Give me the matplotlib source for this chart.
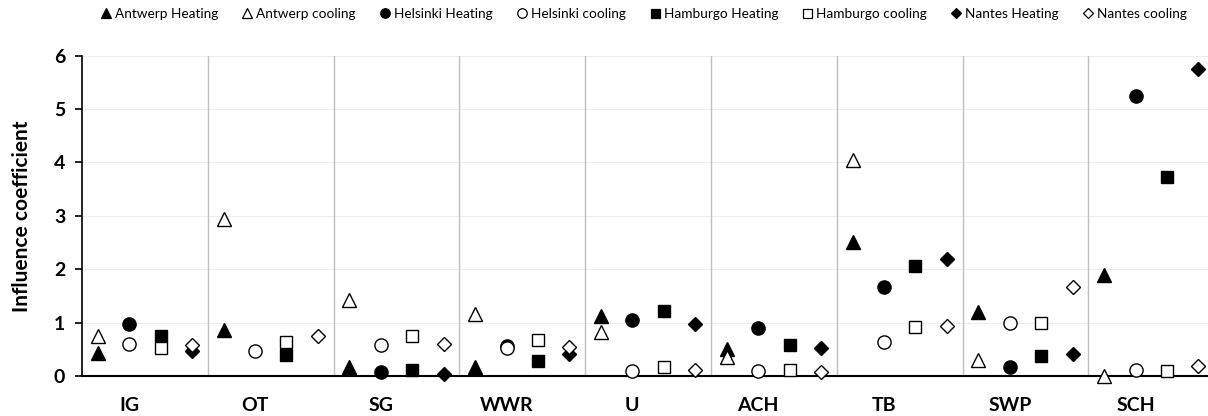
import numpy as np
import matplotlib.pyplot as plt

# ============================================================
# Data
# ============================================================
categories = ["IG", "OT", "SG", "WWR", "U", "ACH", "TB", "SWP", "SCH"]
cities = ["Antwerp", "Helsinki", "Hamburgo", "Nantes"]

antwerp_heating = [0.44, 0.86, 0.17, 0.16, 1.12, 0.50, 2.51, 1.19, 1.90]
antwerp_cooling = [0.75, 2.95, 1.42, 1.17, 0.83, 0.35, 4.05, 0.30, 0.00]
helsinki_heating = [0.97, np.nan, 0.08, 0.57, 1.05, 0.90, 1.67, 0.16, 5.25]
helsinki_cooling = [0.60, 0.46, 0.58, 0.52, 0.10, 0.09, 0.64, 1.00, 0.12]
hamburgo_heating = [0.74, 0.39, 0.12, 0.28, 1.22, 0.59, 2.06, 0.38, 3.73]
hamburgo_cooling = [0.53, 0.64, 0.74, 0.67, 0.17, 0.11, 0.91, 0.99, 0.09]
nantes_heating = [0.46, np.nan, 0.04, 0.41, 0.97, 0.52, 2.20, 0.41, 5.76]
nantes_cooling = [0.59, 0.75, 0.60, 0.55, 0.11, 0.08, 0.94, 1.67, 0.19]

series = [
    ("Antwerp Heating", antwerp_heating, 0, "^", True),
    ("Antwerp cooling", antwerp_cooling, 0, "^", False),
    ("Helsinki Heating", helsinki_heating, 1, "o", True),
    ("Helsinki cooling", helsinki_cooling, 1, "o", False),
    ("Hamburgo Heating", hamburgo_heating, 2, "s", True),
    ("Hamburgo cooling", hamburgo_cooling, 2, "s", False),
    ("Nantes Heating", nantes_heating, 3, "D", True),
    ("Nantes cooling", nantes_cooling, 3, "D", False),
]

plt.rcParams['font.family'] = ['Lato', 'DejaVu Sans']

W, H = 1208, 416
fig = plt.figure(figsize=(W / 100, H / 100), dpi=100)
left, right, top, bottom = 82, 1208, 55.7, 376
ax = fig.add_axes([left / W, 1 - bottom / H, (right - left) / W, (bottom - top) / H])

cat_w = 125.8
ax.set_xlim(0, (right - left) / cat_w)
ax.set_ylim(0, 6)

idx = np.arange(len(categories))

# light grid + grey category separators
for yv in range(1, 7):
    ax.axhline(yv, color='#eeeeee', lw=0.8, zorder=0)
for xv in range(1, len(categories)):
    ax.plot([xv, xv], [0, 6], color='#bfbfbf', lw=1, zorder=0.5)

sizes = {"^": 10, "o": 9.5, "s": 9, "D": 7}
for n, (label, vals, k, mk, filled) in enumerate(series):
    xs = idx + (k + 0.5) / 4
    ax.plot(xs, vals, linestyle='none', marker=mk, markersize=sizes[mk],
            markerfacecolor='black' if filled else 'white',
            markeredgecolor='black', markeredgewidth=1.0,
            clip_on=False, zorder=3 + n, label=label)

ax.spines['top'].set_visible(False)
ax.spines['right'].set_visible(False)
ax.spines['left'].set_linewidth(1.2)
ax.spines['bottom'].set_linewidth(1.5)
ax.spines['bottom'].set_zorder(2.5)

ax.set_xticks(idx + 0.375)
ax.set_xticklabels(categories, fontsize=14, fontweight='bold')
ax.tick_params(axis='x', length=0, pad=15)
ax.set_yticks(range(0, 7))
ax.set_yticklabels([str(v) for v in range(0, 7)], fontsize=14, fontweight='bold')
ax.tick_params(axis='y', length=5, width=1.2, pad=7, direction='out')
ax.set_ylabel("Influence coefficient", fontsize=15, fontweight='bold')
ax.yaxis.set_label_coords((32 - left) / (right - left), 0.5)

leg_handles = []
for label, vals, k, mk, filled in series:
    leg_handles.append(plt.Line2D([], [], linestyle='none', marker=mk,
                                  markersize=sizes[mk] * 0.72,
                                  markerfacecolor='black' if filled else 'white',
                                  markeredgecolor='black', markeredgewidth=0.9))
fig.legend(leg_handles, [s[0] for s in series], loc='center',
           bbox_to_anchor=(644 / W, 1 - 14 / H), ncol=8, frameon=False,
           fontsize=9.8, handlelength=0.7, handletextpad=0.3, columnspacing=1.8,
           borderaxespad=0, borderpad=0)

fig.savefig("out.png", dpi=100)
